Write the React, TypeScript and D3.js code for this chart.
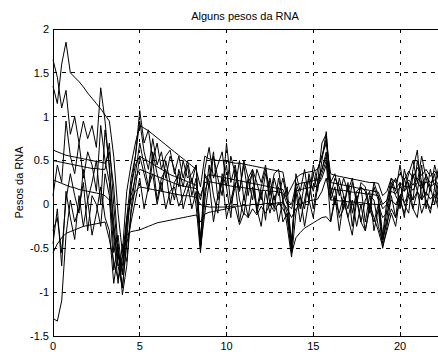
import React from "react";
import { scaleLinear, line, range } from "d3";

// sample times: 0, 0.25, ... 22.75
const times = range(0, 23, 0.25);

const yTicks = [-1.5, -1, -0.5, 0, 0.5, 1, 1.5, 2];
const xTicks = [0, 5, 10, 15, 20, 25];
const xTickLabels = ["0", "5", "10", "15", "20", ""];

// weights, 4 samples per time unit
const w1 = [
  1.35, 1.15, 1.6, 1.85, 1.5, 1.45, 1.4, 1.34, 1.27, 1.21, 1.15, 1.09,
  1.02, 0.95, 0.55, -0.1, -0.55, 0.15, 0.45, 0.7, 0.9, 0.87, 0.84, 0.8,
  0.76, 0.72, 0.68, 0.64, 0.6, 0.56, 0.52, 0.48, 0.44, 0.4, 0.2, 0.55,
  0.52, 0.51, 0.5, 0.5, 0.49, 0.48, 0.47, 0.47, 0.46, 0.45, 0.44, 0.43,
  0.42, 0.41, 0.4, 0.39, 0.38, 0.37, 0.1, 0.2, 0.3, 0.34, 0.36, 0.37,
  0.38, 0.4, 0.55, 0.7, 0.35, 0.33, 0.32, 0.31, 0.3, 0.29, 0.28, 0.27,
  0.26, 0.25, 0.25, 0.24, 0.1, 0.15, 0.3, 0.25, 0.35, 0.28, 0.38, 0.3,
  0.42, 0.33, 0.4, 0.32, 0.38, 0.3, 0.36, 0.33
];
const w2 = [
  1.65, 1.45, 1.1, 1.3, 0.8, 1.0, 0.7, 0.95, 0.75, 0.9, 0.65, 1.33,
  0.95, 0.4, -0.2, -0.7, -0.95, -0.4, 0.2, 0.55, 1.07, 0.7, 0.85, 0.5,
  0.7, 0.4, 0.55, 0.62, 0.35, 0.55, 0.3, 0.5, 0.25, 0.45, -0.45, 0.4,
  0.65, 0.3, 0.45, 0.6, 0.2, 0.55, 0.35, 0.15, 0.45, 0.1, 0.4, 0.25,
  0.05, 0.35, 0.2, -0.05, 0.3, 0.05, -0.1, -0.5, 0.2, -0.05, 0.25, 0.05,
  0.35, 0.15, 0.5, 0.83, 0.1, 0.3, 0.2, -0.05, 0.25, -0.1, 0.15, 0.2,
  -0.2, 0.1, 0.05, -0.25, -0.44, -0.15, 0.2, 0.3, -0.05, 0.3, 0.1, 0.4,
  0.62, 0.05, 0.35, 0.2, 0.0, 0.3, 0.4, 0.15
];
const w3 = [
  0.62, 0.6, 0.58, 0.56, 0.55, 0.54, 0.53, 0.52, 0.51, 0.5, 0.49, 0.48,
  0.47, 0.6, 0.2, -0.5, -0.8, -0.3, 0.2, 0.45, 0.55, 0.52, 0.49, 0.46,
  0.43, 0.4, 0.37, 0.34, 0.32, 0.3, 0.28, 0.26, 0.24, 0.22, 0.05, 0.3,
  0.34, 0.33, 0.32, 0.31, 0.3, 0.29, 0.28, 0.27, 0.26, 0.25, 0.24, 0.23,
  0.22, 0.21, 0.2, 0.19, 0.18, 0.17, 0.05, 0.0, 0.22, 0.24, 0.25, 0.26,
  0.27, 0.28, 0.4, 0.55, 0.25, 0.24, 0.23, 0.22, 0.21, 0.2, 0.19, 0.18,
  0.17, 0.16, 0.15, 0.14, 0.0, 0.05, 0.2, 0.18, 0.25, 0.2, 0.28, 0.22,
  0.3, 0.24, 0.32, 0.25, 0.28, 0.22, 0.3, 0.26
];
const w4 = [
  0.5, 0.49, 0.48, 0.47, 0.46, 0.45, 0.44, 0.43, 0.42, 0.41, 0.41, 0.4,
  0.4, 0.7, 0.0, -0.6, -0.7, -0.2, 0.1, 0.3, 0.4, 0.38, 0.36, 0.34,
  0.32, 0.3, 0.28, 0.26, 0.24, 0.22, 0.21, 0.2, 0.19, 0.18, 0.1, 0.25,
  0.26, 0.25, 0.24, 0.23, 0.22, 0.21, 0.2, 0.2, 0.19, 0.18, 0.18, 0.17,
  0.16, 0.16, 0.15, 0.15, 0.14, 0.13, 0.0, -0.05, 0.15, 0.17, 0.18, 0.19,
  0.2, 0.21, 0.3, 0.45, 0.18, 0.17, 0.16, 0.16, 0.15, 0.14, 0.14, 0.13,
  0.12, 0.12, 0.11, 0.1, -0.05, 0.0, 0.15, 0.12, 0.2, 0.15, 0.22, 0.16,
  0.25, 0.18, 0.26, 0.2, 0.24, 0.18, 0.25, 0.2
];
const w5 = [
  0.28, 0.26, 0.24, 0.22, 0.2, 0.19, 0.17, 0.16, 0.15, 0.14, 0.13, 0.12,
  0.1, 0.05, -0.3, -0.7, -0.6, -0.15, 0.05, 0.15, 0.2, 0.19, 0.18, 0.17,
  0.16, 0.15, 0.14, 0.13, 0.12, 0.11, 0.1, 0.1, 0.09, 0.08, 0.0, -0.02,
  -0.03, -0.03, -0.03, -0.03, -0.03, -0.02, -0.02, -0.02, -0.01, -0.01, 0.0, 0.0,
  0.0, 0.01, 0.01, 0.01, 0.02, 0.02, -0.05, -0.15, -0.05, 0.0, 0.02, 0.04,
  0.05, 0.06, 0.15, 0.3, 0.05, 0.05, 0.04, 0.04, 0.03, 0.03, 0.02, 0.02,
  0.01, 0.01, 0.0, 0.0, -0.15, -0.1, 0.05, 0.0, 0.1, 0.02, 0.12, 0.05,
  0.15, 0.05, 0.14, 0.06, 0.12, 0.04, 0.15, 0.08
];
const w6 = [
  -0.55, -0.45, -0.38, -0.33, -0.31, -0.29, -0.27, -0.25, -0.24, -0.23, -0.22, -0.21,
  -0.2, -0.4, -0.65, -0.85, -0.6, -0.35, -0.31, -0.3, -0.29, -0.27, -0.25, -0.23,
  -0.21, -0.2, -0.19, -0.18, -0.17, -0.16, -0.15, -0.14, -0.13, -0.12, -0.2, -0.11,
  -0.09, -0.08, -0.07, -0.06, -0.05, -0.04, -0.03, -0.23, -0.1, -0.15, -0.05, -0.12,
  -0.02, -0.1, 0.0, -0.08, 0.02, -0.05, -0.15, -0.56, -0.38, -0.32, -0.27, -0.24,
  -0.21, -0.18, -0.15, -0.14, -0.2, 0.05, -0.1, 0.1, -0.15, 0.05, -0.25, 0.0,
  -0.3, -0.05, -0.2, 0.0, -0.4, -0.2, -0.05, -0.15, 0.05, -0.1, 0.1, -0.05,
  0.15, -0.1, 0.05, -0.05, 0.1, -0.08, 0.12, 0.0
];
const w7 = [
  -1.3, -1.33, -1.1, -0.35, 0.05, -0.2, -0.05, 0.25, -0.3, 0.1, 0.0, -0.25,
  0.35, 0.1, -0.75, -0.45, -1.03, -0.7, -0.1, 0.2, 0.55, 0.35, 0.15, 0.5,
  0.05, 0.3, 0.4, 0.0, 0.25, 0.35, -0.05, 0.15, 0.3, -0.02, -0.55, 0.05,
  0.45, 0.1, -0.1, 0.35, 0.2, -0.15, 0.4, 0.05, -0.12, 0.25, 0.35, -0.1,
  0.15, -0.18, 0.3, 0.05, 0.2, -0.2, -0.1, -0.4, 0.15, -0.2, 0.05, 0.3,
  -0.05, 0.25, 0.4, 0.6, 0.05, 0.2, -0.15, -0.05, 0.2, -0.25, 0.1, -0.2,
  0.05, 0.15, -0.3, -0.05, -0.5, -0.25, 0.1, -0.15, 0.25, 0.0, -0.1, 0.35,
  0.15, 0.45, -0.05, 0.2, 0.35, 0.0, 0.25, 0.1
];
const w8 = [
  -0.3, -0.15, -0.55, 0.05, 0.35, 0.1, -0.1, 0.4, 0.05, 0.25, 0.5, 0.0,
  0.85, 0.45, -0.35, -0.9, -0.45, -0.65, -0.05, 0.35, 0.7, 0.45, 0.2, 0.6,
  0.35, 0.15, 0.5, 0.25, 0.05, 0.4, 0.2, 0.45, 0.1, 0.3, -0.4, 0.15,
  0.3, 0.6, 0.05, 0.25, 0.45, 0.0, 0.2, 0.5, 0.05, 0.3, 0.4, -0.05,
  0.2, 0.4, 0.0, 0.3, 0.1, 0.3, 0.05, -0.45, 0.25, 0.1, -0.05, 0.35,
  0.15, 0.4, 0.55, 0.75, 0.2, 0.0, 0.3, 0.1, -0.05, 0.25, 0.05, 0.2,
  0.15, -0.1, 0.2, 0.05, -0.4, -0.05, 0.25, 0.1, 0.0, 0.4, 0.2, 0.05,
  0.5, 0.25, 0.1, 0.4, 0.2, 0.45, 0.15, 0.3
];
const w9 = [
  0.1, 0.45, 0.25, 0.95, 0.55, 0.35, 0.7, 0.3, 0.6, 0.45, 0.15, 0.9,
  0.5, 0.25, -0.55, -0.35, -0.8, -0.15, 0.3, 0.55, 0.95, 0.6, 0.4, 0.75,
  0.45, 0.6, 0.3, 0.55, 0.4, 0.2, 0.5, 0.3, 0.35, 0.45, -0.5, 0.35,
  0.2, 0.55, 0.3, 0.1, 0.7, 0.25, 0.45, 0.15, 0.5, 0.3, 0.05, 0.4,
  0.25, 0.45, 0.1, 0.35, 0.4, 0.05, 0.2, -0.55, 0.35, 0.15, 0.4, 0.05,
  0.45, 0.25, 0.7, 0.8, 0.25, 0.35, 0.1, 0.3, 0.15, 0.3, 0.0, 0.25,
  0.2, -0.05, 0.25, 0.1, -0.35, 0.05, 0.3, 0.15, 0.45, 0.15, 0.35, 0.5,
  0.25, 0.55, 0.3, 0.15, 0.45, 0.25, 0.5, 0.3
];
const w10 = [
  -0.45, -0.05, -0.7, 0.15, -0.15, -0.4, 0.1, -0.25, 0.05, -0.35, -0.1, 0.2,
  -0.15, -0.3, -0.9, -0.55, -0.95, -0.45, -0.2, 0.05, 0.3, -0.05, 0.2, 0.35,
  0.0, 0.25, -0.05, 0.15, 0.2, -0.02, 0.1, 0.25, -0.05, 0.15, -0.5, -0.1,
  0.25, -0.2, 0.1, 0.3, -0.15, 0.05, 0.25, -0.2, 0.1, -0.15, 0.2, -0.05,
  -0.25, 0.15, -0.1, 0.1, -0.2, 0.05, -0.25, -0.6, -0.1, 0.1, -0.25, 0.05,
  -0.15, 0.2, 0.35, 0.5, -0.2, 0.1, -0.3, 0.05, -0.15, -0.35, 0.05, -0.2,
  -0.3, 0.0, -0.15, -0.3, -0.48, -0.3, -0.1, -0.25, 0.1, -0.15, 0.25, -0.05,
  -0.15, 0.25, 0.05, -0.1, 0.2, -0.05, 0.3, 0.05
];

const series = [w1, w2, w3, w4, w5, w6, w7, w8, w9, w10];

export default function App() {
  const width = 438,
    height = 352;
  const left = 53,
    top = 29,
    bottom = 336;
  const unit = 17.35;

  const x = scaleLinear().domain([0, 25]).range([left, left + 25 * unit]);
  const y = scaleLinear().domain([-1.5, 2]).range([bottom, top]);

  const path = line<number>()
    .x((_, i) => x(times[i]))
    .y(d => y(d));

  const font = "'Liberation Sans', Arial, sans-serif";
  const right = x(25);

  return (
    <svg
      width={width}
      height={height}
      style={{ position: "absolute", left: 0, top: 0, background: "#fff" }}
      fontFamily={font}
    >
      <rect width={width} height={height} fill="#fff" />
      {/* grid */}
      {yTicks.slice(1, -1).map(t => (
        <line
          key={"gy" + t}
          x1={left}
          x2={right}
          y1={y(t)}
          y2={y(t)}
          stroke="#000"
          strokeWidth={1}
          strokeDasharray="4,5"
          shapeRendering="crispEdges"
        />
      ))}
      {xTicks.slice(1).map(t => (
        <line
          key={"gx" + t}
          x1={x(t)}
          x2={x(t)}
          y1={top}
          y2={bottom}
          stroke="#000"
          strokeWidth={1}
          strokeDasharray="3,8"
          shapeRendering="crispEdges"
        />
      ))}

      {/* weights */}
      {series.map((s, k) => (
        <path
          key={k}
          d={path(s) || ""}
          fill="none"
          stroke="#000"
          strokeWidth={1}
          strokeLinejoin="round"
        />
      ))}

      {/* axes box */}
      <line x1={left} x2={right} y1={top} y2={top} stroke="#000" shapeRendering="crispEdges" />
      <line x1={left} x2={right} y1={bottom} y2={bottom} stroke="#000" shapeRendering="crispEdges" />
      <line x1={left} x2={left} y1={top} y2={bottom} stroke="#000" shapeRendering="crispEdges" />
      {xTicks.map((t, i) => (
        <g key={"tx" + t}>
          <line x1={x(t)} x2={x(t)} y1={bottom} y2={bottom - 4} stroke="#000" shapeRendering="crispEdges" />
          <line x1={x(t)} x2={x(t)} y1={top} y2={top + 4} stroke="#000" shapeRendering="crispEdges" />
          {xTickLabels[i] && (
            <text x={x(t)} y={350} fontSize={11} textAnchor="middle">
              {xTickLabels[i]}
            </text>
          )}
        </g>
      ))}
      {yTicks.map(t => (
        <g key={"ty" + t}>
          <line x1={left} x2={left + 4} y1={y(t)} y2={y(t)} stroke="#000" shapeRendering="crispEdges" />
          <text x={49} y={y(t)} dy="0.35em" fontSize={11} textAnchor="end">
            {t}
          </text>
        </g>
      ))}

      <text x={245} y={20} fontSize={11} textAnchor="middle">
        Alguns pesos da RNA
      </text>
      <text
        transform={`translate(23, ${(top + bottom) / 2}) rotate(-90)`}
        fontSize={11}
        textAnchor="middle"
      >
        Pesos da RNA
      </text>
    </svg>
  );
}
